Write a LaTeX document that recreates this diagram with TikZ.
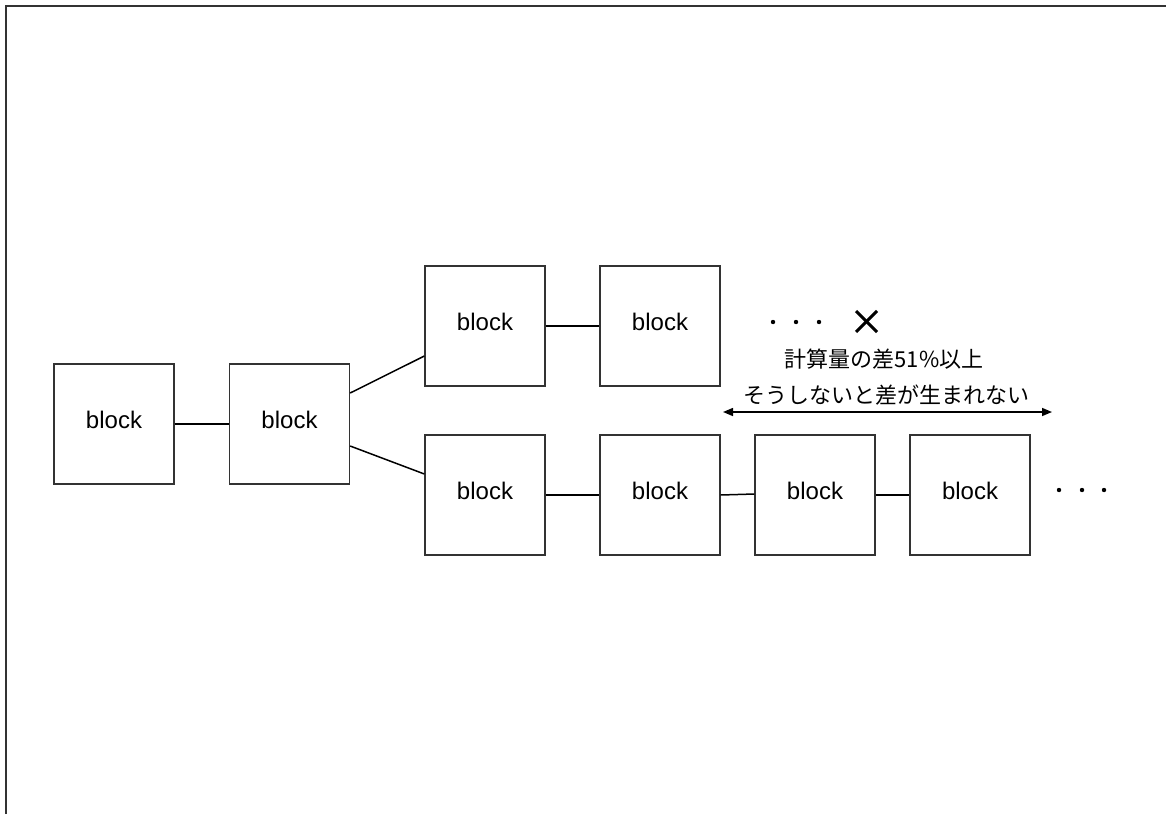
\documentclass[tikz,border=0pt]{standalone}
\usepackage{fontspec}
\setmainfont{Liberation Sans}
\newfontfamily\jp{Noto Sans CJK JP}
\usetikzlibrary{arrows.meta}
\begin{document}
\begin{tikzpicture}[x=1pt,y=-1pt,
  blk/.style={draw=black!80,line width=1.3pt,minimum width=120pt,minimum height=120pt,inner sep=0pt,text height=17.5pt,text depth=9.5pt,font=\fontsize{24}{28}\selectfont},
  link/.style={draw=black,line width=1.5pt},
  frame/.style={draw=black!80,line width=1.6pt},
  dot/.style={circle,fill=black,inner sep=0pt,minimum size=4.4pt},
  jtxt/.style={font=\jp\fontsize{22}{26}\selectfont,inner sep=0pt}]
\useasboundingbox (0,0) rectangle (1166,814);
\draw[frame] (6,814) -- (6,6) -- (1166,6);
\node[blk] (A) at (114,424) {block};
\node[blk] (B) at (289.5,424) {block};
\node[blk] (C) at (485,326) {block};
\node[blk] (D) at (660,326) {block};
\node[blk] (E) at (485,495) {block};
\node[blk] (F) at (660,495) {block};
\node[blk] (G) at (815,495) {block};
\node[blk] (H) at (970,495) {block};
\draw[link] (A.east) -- (B.west);
\draw[link] ([yshift=31pt]B.east) -- ([yshift=-30pt]C.west);
\draw[link] ([yshift=-22pt]B.east) -- ([yshift=21pt]E.west);
\draw[link] (C.east) -- (D.west);
\draw[link] (E.east) -- (F.west);
\draw[link] (F.east) -- ([yshift=1pt]G.west);
\draw[link] (G.east) -- (H.west);
\node[dot] (d1) at (773,322) {};
\node[dot] (d2) at (796,322) {};
\node[dot] (d3) at (819,322) {};
\node[dot] (e1) at (1059,490) {};
\node[dot] (e2) at (1082,490) {};
\node[dot] (e3) at (1104,490) {};
\coordinate (x1) at (856,311);
\coordinate (x2) at (877,332);
\coordinate (x3) at (856,332);
\coordinate (x4) at (877,311);
\draw[black,line width=3pt] (x1) -- (x2);
\draw[black,line width=3pt] (x3) -- (x4);
\node[jtxt] (t1) at (884,359) {計算量の差51\%以上};
\node[jtxt] (t2) at (886,395) {そうしないと差が生まれない};
\coordinate (a1) at (723,412);
\coordinate (a2) at (1052,412);
\draw[line width=1.5pt,{Triangle[length=10pt,width=8pt]}-{Triangle[length=10pt,width=8pt]}] (a1) -- (a2);
\end{tikzpicture}
\end{document}
